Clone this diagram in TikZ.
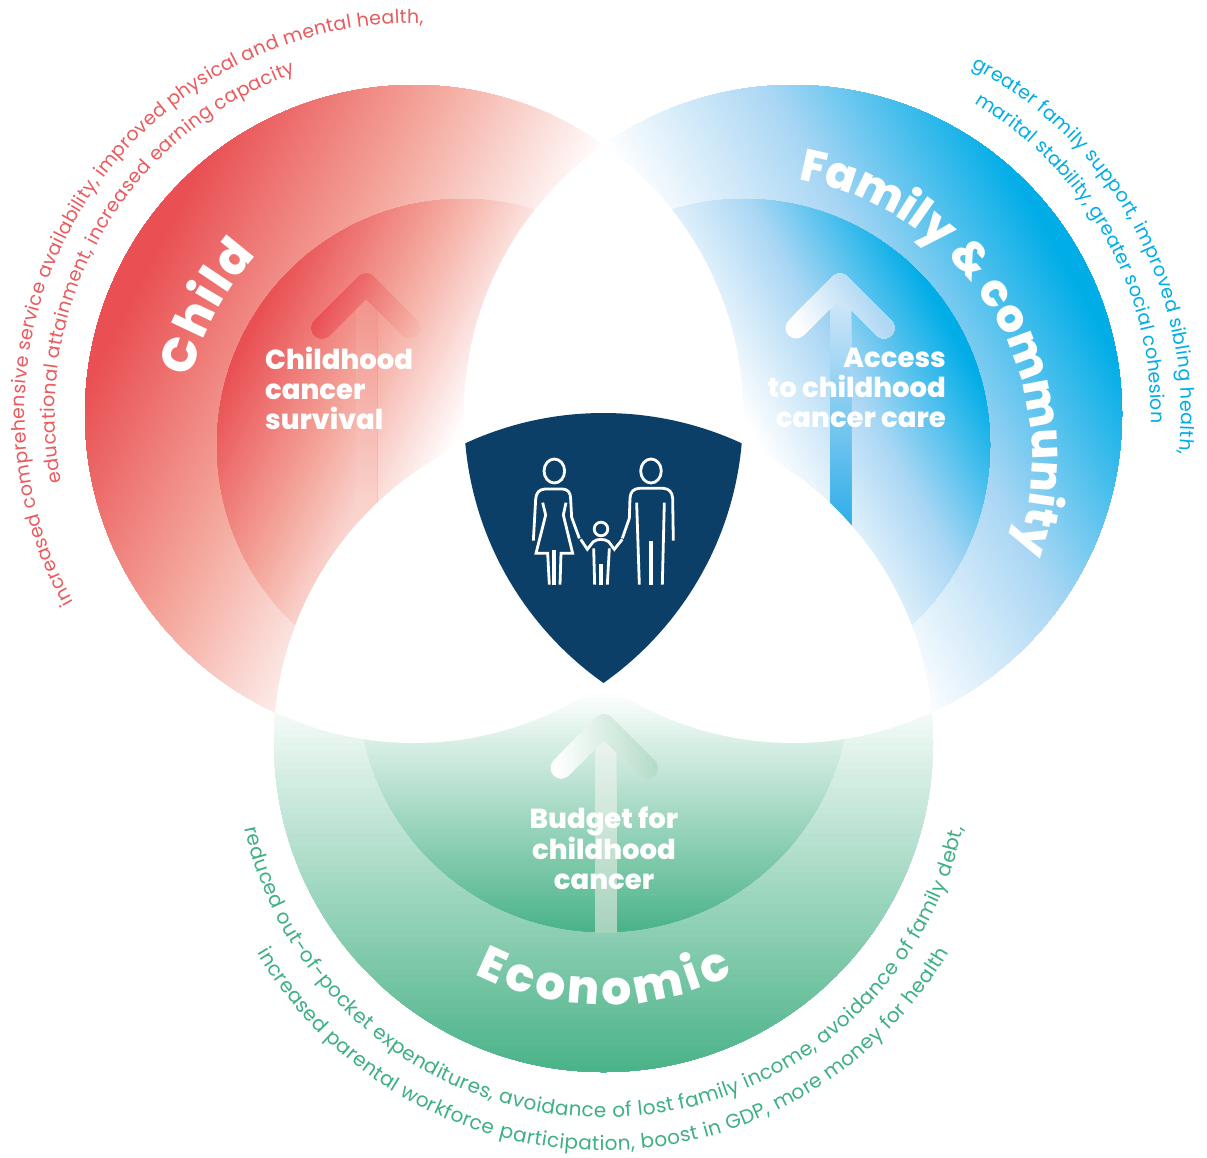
\documentclass[tikz,border=0pt]{standalone}
\usepackage{fontspec}
\setmainfont{Poppins}
\newfontfamily\heavyfont{Poppins ExtraBold}
\usetikzlibrary{decorations.text}
\definecolor{redD}{HTML}{E94F53}
\definecolor{redMid}{HTML}{F4A79C}
\definecolor{blueD}{HTML}{00ADE7}
\definecolor{blueMid}{HTML}{A9D6F4}
\definecolor{greenD}{HTML}{48B287}
\definecolor{redT}{HTML}{EA5B5E}
\definecolor{blueT}{HTML}{00AEE6}
\definecolor{greenT}{HTML}{3FB083}
\definecolor{shield}{HTML}{0B3F68}
\definecolor{redShaftA}{HTML}{F19189}
\definecolor{redShaftB}{HTML}{FAD3CD}
\definecolor{blueShaftA}{HTML}{CFE6F8}
\definecolor{blueShaftB}{HTML}{2EADE8}
\definecolor{blueChev}{HTML}{AFD8F4}
\definecolor{greenShaftA}{HTML}{E8F3ED}
\definecolor{greenShaftB}{HTML}{A6D3BB}
\definecolor{greenChev}{HTML}{B5DCC8}
\tikzset{
  biglabel/.style={text=white,font=\fontsize{27.5}{30}\heavyfont\selectfont,inner sep=0pt},
  iconline/.style={draw=white,line width=2.8pt,line join=miter},
}
% half-plane colour ramp, to be used inside a clip
\newcommand{\rampstart}[1]{\fill[#1] (-10,-10) rectangle (1220,1170);}
\newcommand{\ramp}[8]{%
  \foreach \i in {1,...,60}{%
    \pgfmathsetmacro\dd{#5+(#6-(#5))/60*\i}%
    \pgfmathsetmacro\pc{100*\i/60}%
    \pgfmathsetmacro\ax{#1+(#3)*\dd-(#4)*1600}%
    \pgfmathsetmacro\ay{#2+(#4)*\dd+(#3)*1600}%
    \pgfmathsetmacro\bx{#1+(#3)*\dd+(#4)*1600}%
    \pgfmathsetmacro\by{#2+(#4)*\dd-(#3)*1600}%
    \pgfmathsetmacro\ex{(#3)*3000}%
    \pgfmathsetmacro\ey{(#4)*3000}%
    \pgfmathsetmacro\gx{-3200*(#4)}%
    \pgfmathsetmacro\gy{3200*(#3)}%
    \fill[#8!\pc!#7] (\ax,\ay) -- (\bx,\by) -- ++(\ex,\ey) -- ++(\gx,\gy) -- cycle;
  }%
}
\newcommand{\twostage}[8]{%
  \pgfmathsetmacro\dm{(#5+#6)/2}%
  \rampstart{white}%
  \ramp{#1}{#2}{#3}{#4}{#5}{\dm}{white}{#7}%
  \ramp{#1}{#2}{#3}{#4}{\dm}{#6}{#7}{#8}%
}
% chevron outline: apex centre (#1,#2), half span #3, stroke half-width 10.5
\newcommand{\chevronpath}[3]{%
  ([shift={(-7.42pt,7.42pt)}]#1-#3,#2+#3) --
  ([shift={(-7.42pt,7.42pt)}]#1,#2) arc[start angle=135,end angle=45,radius=10.5pt] --
  ([shift={(7.42pt,7.42pt)}]#1+#3,#2+#3) arc[start angle=45,end angle=-135,radius=10.5pt] --
  ([shift={(0pt,-14.85pt)}]#1,#2) --
  ([shift={(7.42pt,-7.42pt)}]#1-#3,#2+#3) arc[start angle=-45,end angle=-225,radius=10.5pt] -- cycle
}
\newcommand{\curvedlabel}[7]{%
  \path[decorate,decoration={text along path,text align={fit to path},
    text={|#6|#7}}]
    ([shift={(#4:#3pt)}]#1,#2) arc[start angle=#4,end angle=#5,radius=#3pt];
}
\newcommand{\redcircle}{(414,414) circle (329pt)}
\newcommand{\bluecircle}{(793,414) circle (329pt)}
\newcommand{\greencircle}{(603.5,742.5) circle (329.5pt)}
\begin{document}
\begin{tikzpicture}[x=1pt,y=-1pt]
\useasboundingbox (0,0) rectangle (1207,1157);
\fill[white] (0,0) rectangle (1207,1157);
% ---- red
\begin{scope}
  \clip \redcircle;
  \twostage{600}{140}{-0.891}{-0.454}{-10}{345}{redMid}{redD}
\end{scope}
\begin{scope}
  \clip (463,445) circle (246pt);
  \twostage{600}{140}{-0.891}{-0.454}{-10}{225}{redMid}{redD}
\end{scope}
% red arrow
\begin{scope}
  \clip (356,285) rectangle (377,520);
  \rampstart{redShaftA}
  \ramp{0}{0}{0}{1}{290}{505}{redShaftA}{redShaftB}
\end{scope}
\begin{scope}
  \clip \chevronpath{366}{284}{44};
  \twostage{600}{140}{-0.891}{-0.454}{11}{172}{redMid}{redD}
\end{scope}
% ---- blue
\begin{scope}
  \clip \bluecircle;
  \twostage{610}{140}{0.872}{-0.49}{-8}{335}{blueMid}{blueD}
\end{scope}
\begin{scope}
  \clip (744,445) circle (246pt);
  \twostage{610}{140}{0.872}{-0.49}{-20}{205}{blueMid}{blueD}
\end{scope}
% blue arrow
\begin{scope}
  \clip (830,285) rectangle (851,540);
  \rampstart{blueShaftA}
  \ramp{0}{0}{0}{1}{300}{525}{blueShaftA}{blueShaftB}
\end{scope}
\begin{scope}
  \clip \chevronpath{840}{284}{44};
  \rampstart{white}
  \ramp{610}{140}{0.872}{-0.49}{71}{150}{white}{blueChev}
\end{scope}
% ---- green
\begin{scope}
  \clip \greencircle;
  \rampstart{white}
  \ramp{0}{0}{0}{1}{685}{1072}{white}{greenD}
\end{scope}
\begin{scope}
  \clip (604,686) circle (246pt);
  \rampstart{white}
  \ramp{0}{0}{0}{1}{690}{932}{white}{greenD}
\end{scope}
% green arrow
\begin{scope}
  \clip (595,735) rectangle (616,932);
  \rampstart{greenShaftA}
  \ramp{0}{0}{0}{1}{745}{932}{greenShaftA}{greenShaftB}
\end{scope}
\begin{scope}
  \clip \chevronpath{604}{725}{43};
  \rampstart{white}
  \ramp{0}{0}{1}{0}{555}{655}{white}{greenChev}
\end{scope}
% ---- white overlaps
\begin{scope}
  \clip \redcircle;
  \fill[white] \bluecircle;
  \fill[white] \greencircle;
\end{scope}
\begin{scope}
  \clip \bluecircle;
  \fill[white] \greencircle;
\end{scope}
% ---- centre shield
\begin{scope}
  \clip \redcircle;
  \clip \bluecircle;
  \fill[shield] \greencircle;
\end{scope}
% ---- family icon
\begin{scope}[shift={(500,440)},x=0.3333pt,y=-0.3333pt]
  \draw[iconline] (163,93) ellipse [x radius=10.3pt,y radius=12pt];
  \draw[iconline] (100,302) -- (107,178) .. controls (108,158) and (118,148) .. (135,147) -- (188,147) .. controls (204,148) and (212,158) .. (212,178) -- (215,232) -- (238,295);
  \draw[iconline] (128,188) -- (137,225) -- (108,340) -- (143,340) -- (148,434);
  \draw[iconline] (198,188) -- (190,225) -- (218,340) -- (183,340) -- (180,434);
  \fill[white] (156,330) rectangle (168,434);
  \draw[iconline] (453,93) ellipse [x radius=10.3pt,y radius=12pt];
  \draw[iconline] (520,302) -- (518,175) .. controls (517,156) and (507,146) .. (490,145) -- (418,145) .. controls (400,146) and (391,156) .. (390,175) -- (388,235) -- (367,295);
  \draw[iconline] (410,188) -- (418,434);
  \draw[iconline] (493,188) -- (487,434);
  \fill[white] (447,302) rectangle (459,434);
  \draw[iconline] (303,267) circle (6.8pt);
  \draw[iconline] (242,298) -- (262,328) -- (280,305) .. controls (290,296) and (316,296) .. (326,305) -- (343,328) -- (367,298);
  \draw[iconline] (281,325) -- (284,434);
  \draw[iconline] (328,325) -- (322,434);
  \fill[white] (297,372) rectangle (309,434);
\end{scope}
% ---- inner labels
\node[biglabel,anchor=west,align=left] (survival) at (265,388) {Childhood\\cancer\\survival};
\node[biglabel,anchor=east,align=right] (access) at (946,388) {Access\\to childhood\\cancer care};
\node[biglabel,anchor=center,align=center] (budget) at (604,848) {Budget for\\childhood\\cancer};
% ---- ring titles
\curvedlabel{463}{445}{280}{166}{137.5}{\fontsize{48}{48}\heavyfont\selectfont\color{white}}{Child}
\curvedlabel{749}{458}{283}{80}{-18.5}{\fontsize{45}{45}\heavyfont\selectfont\color{white}}{Family {\&} community}
\curvedlabel{604}{721}{284}{243}{297}{\fontsize{47}{47}\heavyfont\selectfont\color{white}}{Economic}
% ---- outer curved texts
\curvedlabel{415}{413}{390}{209}{88.8}{\fontsize{19}{19}\selectfont\color{redT}}{increased comprehensive service availability, improved physical and mental health,}
\curvedlabel{415}{413}{360}{191.1}{109.4}{\fontsize{19}{19}\selectfont\color{redT}}{educational attainment, increased earning capacity}
\curvedlabel{791}{413}{390}{62.5}{-6}{\fontsize{19}{19}\selectfont\color{blueT}}{greater family support, improved sibling health,}
\curvedlabel{791}{413}{360}{59.4}{-1.6}{\fontsize{19}{19}\selectfont\color{blueT}}{marital stability, greater social cohesion}
\curvedlabel{604}{750}{367.5}{192.3}{347.7}{\fontsize{20}{20}\selectfont\color{greenT}}{reduced out-of-pocket expenditures, avoidance of lost family income, avoidance of family debt,}
\curvedlabel{603}{749}{401.5}{210.5}{329.5}{\fontsize{20}{20}\selectfont\color{greenT}}{increased parental workforce participation, boost in GDP, more money for health}
\end{tikzpicture}
\end{document}
